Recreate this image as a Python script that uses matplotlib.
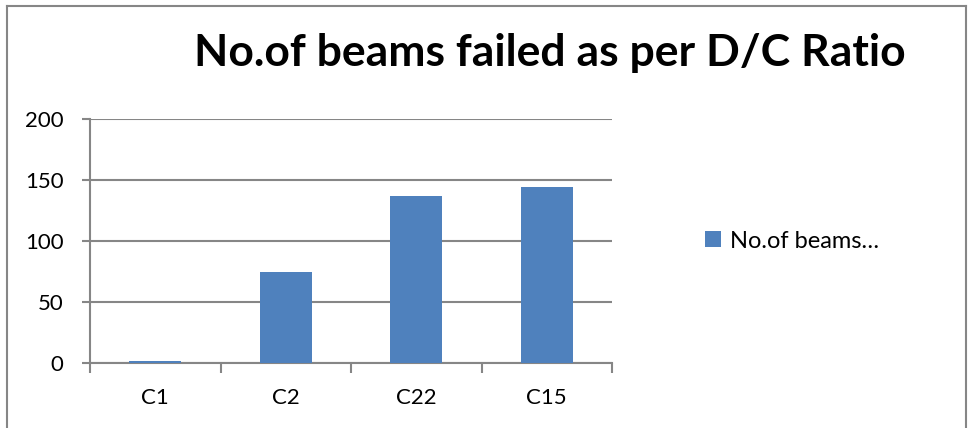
import matplotlib
matplotlib.use("Agg")
import matplotlib.pyplot as plt
from matplotlib.lines import Line2D

# data
categories = ["C1", "C2", "C22", "C15"]
beams_failed = [2, 75, 137, 144]
series_name = "No.of beams…"
title = "No.of beams failed as per D/C Ratio"

bar_color = "#4F81BD"
grid_color = "#868686"

plt.rcParams['font.family'] = ['Lato', 'DejaVu Sans']

fig = plt.figure(figsize=(9.69, 4.28), dpi=100)
ax = fig.add_axes([90 / 969, 1 - 363.3 / 428, (612 - 90) / 969, (363.3 - 119) / 428])

x = list(range(len(categories)))
bars = ax.bar(x, beams_failed, width=0.4, color=bar_color, zorder=3, label=series_name)

ax.set_xlim(-0.5, len(categories) - 0.5)
ax.set_ylim(0, 200)
ax.set_yticks([0, 50, 100, 150, 200])
ax.yaxis.grid(True, color=grid_color, linewidth=1.5, zorder=0)

# category boundaries as major ticks, labels on minor ticks
ax.set_xticks([i - 0.5 for i in range(len(categories) + 1)])
ax.set_xticklabels([])
ax.set_xticks(x, minor=True)
ax.set_xticklabels(categories, minor=True)
ax.tick_params(axis='x', which='major', length=7, width=1.5, color=grid_color, direction='out')
ax.tick_params(axis='x', which='minor', length=0, pad=18, labelsize=16)
ax.tick_params(axis='y', length=6, width=1.5, color=grid_color, pad=13, labelsize=16)

for s in ['top', 'right']:
    ax.spines[s].set_visible(False)
for s in ['left', 'bottom']:
    ax.spines[s].set_color(grid_color)
    ax.spines[s].set_linewidth(1.5)

fig.text(550 / 969, 1 - 53 / 428, title, ha='center', va='center',
         fontsize=32, fontweight='bold')

leg = ax.legend(loc='center left', bbox_to_anchor=(1.138, 0.5), frameon=False,
                fontsize=17, handlelength=0.65, handleheight=0.65, handletextpad=0.4)

# outer chart border
fig.add_artist(Line2D([7 / 969, 7 / 969], [0, 1 - 6 / 428], color=grid_color, lw=1.5))
fig.add_artist(Line2D([7 / 969, 966 / 969], [1 - 6 / 428, 1 - 6 / 428], color=grid_color, lw=1.5))
fig.add_artist(Line2D([966 / 969, 966 / 969], [0, 1 - 6 / 428], color=grid_color, lw=1.5))

fig.savefig("out.png", dpi=100)
